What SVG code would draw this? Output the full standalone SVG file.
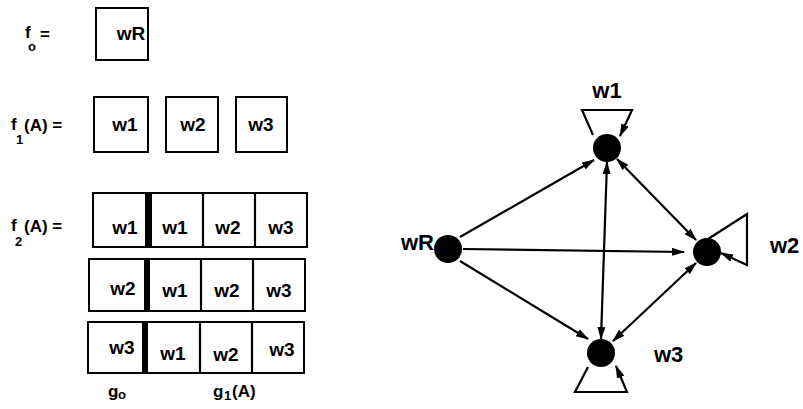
<svg xmlns="http://www.w3.org/2000/svg" width="803" height="409" viewBox="0 0 803 409">
<style>
  .t{font-family:"Liberation Sans",Arial,sans-serif;font-weight:bold;fill:#000}
  .c{font-size:19px;text-anchor:middle}
  .g{font-size:22px}
  .f{font-size:17px}
  .s{font-size:13px}
  .box{fill:#fff;stroke:#000;stroke-width:2}
  .bar{fill:#000}
  .e{fill:none;stroke:#000;stroke-width:2.2}
  .n{fill:#000}
</style>
<defs>
  <marker id="ah" markerUnits="userSpaceOnUse" markerWidth="14" markerHeight="10" refX="12" refY="5" orient="auto-start-reverse" viewBox="0 0 14 10">
    <path d="M0,1 L13,5 L0,9 Z" fill="#000"/>
  </marker>
</defs>
<rect width="803" height="409" fill="#fff"/>

<!-- left labels -->
<g id="label-f0"><text class="t f" x="25" y="38">f</text><text class="t s" x="28" y="51">o</text><text class="t f" x="40" y="40">=</text></g>
<g id="label-f1"><text class="t f" x="11" y="130">f</text><text class="t s" x="16" y="144">1</text><text class="t f" x="24" y="131">(A) =</text></g>
<g id="label-f2"><text class="t f" x="11" y="231">f</text><text class="t s" x="15" y="246">2</text><text class="t f" x="24" y="232">(A) =</text></g>

<g id="box-f0-wR"><rect class="box" x="96" y="8" width="52" height="52"/><text class="t c" x="131" y="40">wR</text></g>

<g id="box-f1-w1"><rect class="box" x="94" y="97" width="54" height="55"/><text class="t c" x="125" y="131">w1</text></g>
<g id="box-f1-w2"><rect class="box" x="166" y="97" width="52" height="55"/><text class="t c" x="193" y="131">w2</text></g>
<g id="box-f1-w3"><rect class="box" x="236" y="97" width="51" height="55"/><text class="t c" x="261" y="131">w3</text></g>

<g id="row-f2-w1">
  <rect class="box" x="93" y="193" width="214" height="54"/>
  <rect class="bar" x="145" y="193" width="7" height="54"/>
  <line class="e" x1="203" y1="193" x2="203" y2="247"/>
  <line class="e" x1="255" y1="193" x2="255" y2="247"/>
  <text class="t c" x="125" y="234">w1</text>
  <text class="t c" x="175" y="234">w1</text>
  <text class="t c" x="228" y="234">w2</text>
  <text class="t c" x="281" y="234">w3</text>
</g>
<g id="row-f2-w2">
  <rect class="box" x="89" y="259" width="216" height="52"/>
  <rect class="bar" x="144" y="259" width="6" height="52"/>
  <line class="e" x1="201" y1="259" x2="201" y2="311"/>
  <line class="e" x1="253" y1="259" x2="253" y2="311"/>
  <text class="t c" x="123" y="295">w2</text>
  <text class="t c" x="175" y="297">w1</text>
  <text class="t c" x="227" y="297">w2</text>
  <text class="t c" x="279" y="297">w3</text>
</g>
<g id="row-f2-w3">
  <rect class="box" x="88" y="322" width="216" height="51"/>
  <rect class="bar" x="142" y="322" width="6" height="51"/>
  <line class="e" x1="200" y1="322" x2="200" y2="373"/>
  <line class="e" x1="252" y1="322" x2="252" y2="373"/>
  <text class="t c" x="122" y="354">w3</text>
  <text class="t c" x="173" y="360">w1</text>
  <text class="t c" x="226" y="361">w2</text>
  <text class="t c" x="282" y="356">w3</text>
</g>
<g id="label-g0"><text class="t f" x="108" y="397">g</text><text class="t s" x="118" y="399">o</text></g>
<g id="label-g1"><text class="t f" x="213" y="397">g</text><text class="t s" x="224" y="400">1</text><text class="t f" x="232" y="397">(A)</text></g>

<!-- graph connectors -->
<g id="connectors">
  <line class="e" x1="460" y1="237" x2="594" y2="160" marker-end="url(#ah)"/>
  <line class="e" x1="463" y1="249" x2="684" y2="252" marker-end="url(#ah)"/>
  <line class="e" x1="460" y1="261" x2="588" y2="339" marker-end="url(#ah)"/>
  <line class="e" x1="607" y1="162" x2="601" y2="339" marker-start="url(#ah)" marker-end="url(#ah)"/>
  <line class="e" x1="617" y1="159" x2="696" y2="240" marker-start="url(#ah)" marker-end="url(#ah)"/>
  <line class="e" x1="696" y1="263" x2="613" y2="341" marker-start="url(#ah)" marker-end="url(#ah)"/>
  <polyline class="e" points="593,135 582,110 632,110 620,136" marker-end="url(#ah)"/>
  <polyline class="e" points="708,239 747,214 747,265 721,253" marker-end="url(#ah)"/>
  <polyline class="e" points="588,367 575,392 627,392 616,366" marker-end="url(#ah)"/>
</g>

<!-- graph nodes -->
<g id="node-wR"><circle class="n" cx="448" cy="249" r="14"/><text class="t g" x="434" y="250" text-anchor="end">wR</text></g>
<g id="node-w1"><circle class="n" cx="607" cy="148" r="14"/><text class="t g" x="607" y="98" text-anchor="middle">w1</text></g>
<g id="node-w2"><circle class="n" cx="707" cy="252" r="14"/><text class="t g" x="770" y="253">w2</text></g>
<g id="node-w3"><circle class="n" cx="601" cy="353" r="14"/><text class="t g" x="654" y="362">w3</text></g>
</svg>
